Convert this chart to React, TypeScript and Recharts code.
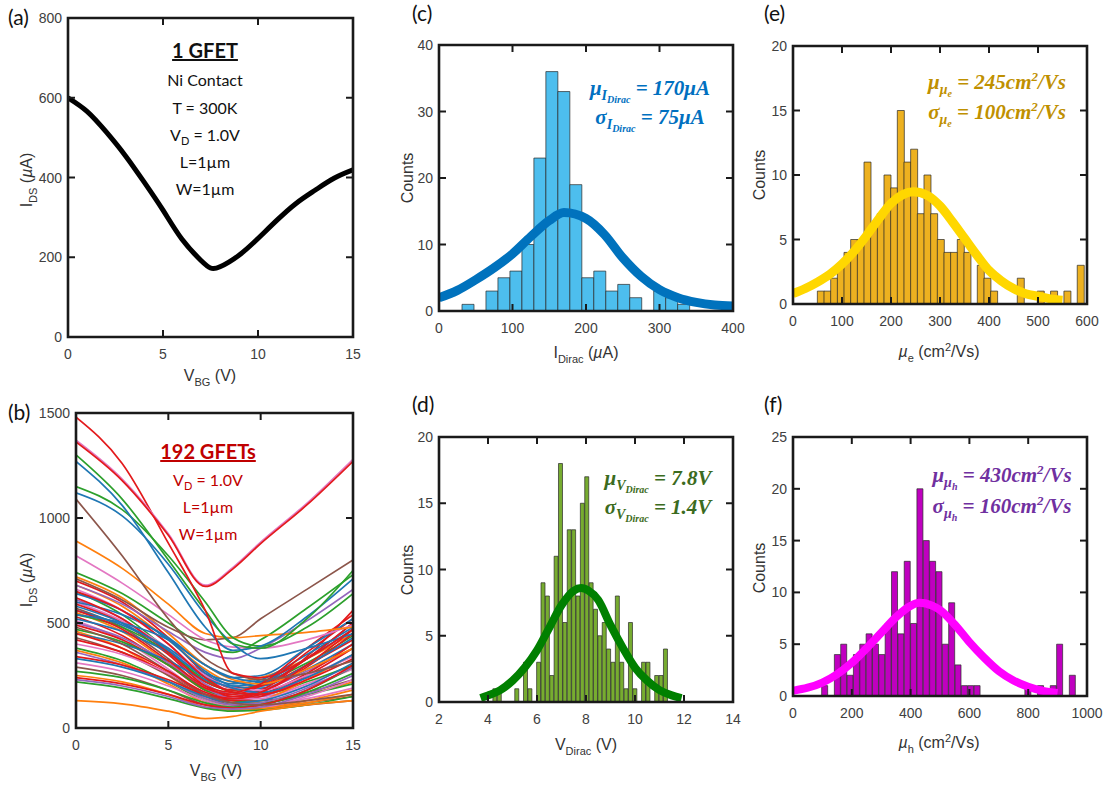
import React from "react";
import { ComposedChart, LineChart, Line, Bar, XAxis, YAxis } from "recharts";

// (a) single GFET transfer curve
const A_VBG = [0, 1, 2, 3, 4, 5, 6, 7, 7.5, 8, 9, 10, 11, 12, 13, 14, 15];
const A_IDS = [600, 566, 515, 456, 389, 318, 245, 192, 173, 176, 205, 247, 293, 335, 368, 398, 419];

// (b) 192 GFETs - a representative subset of traces, sampled at B_VBG
const B_VBG = [0, 2.5, 5, 7, 8.5, 10, 12.5, 15];
const B_CURVES: number[][] = [
  [700, 600, 430, 260, 190, 200, 300, 420],
  [680, 580, 420, 280, 220, 240, 330, 450],
  [650, 540, 370, 220, 180, 210, 310, 440],
  [640, 560, 420, 270, 200, 190, 280, 400],
  [610, 520, 360, 210, 160, 180, 270, 380],
  [600, 510, 380, 240, 170, 150, 210, 300],
  [590, 500, 350, 200, 150, 170, 290, 450],
  [570, 480, 330, 190, 140, 130, 170, 230],
  [560, 490, 380, 260, 220, 200, 300, 430],
  [550, 460, 310, 180, 130, 120, 160, 220],
  [540, 480, 360, 230, 170, 160, 220, 300],
  [530, 440, 300, 180, 150, 180, 340, 560],
  [520, 460, 360, 250, 210, 230, 350, 480],
  [510, 420, 280, 160, 120, 110, 140, 190],
  [500, 430, 310, 190, 140, 150, 240, 350],
  [490, 420, 300, 190, 160, 200, 360, 520],
  [470, 410, 300, 180, 130, 120, 160, 210],
  [460, 380, 250, 140, 110, 130, 230, 350],
  [450, 400, 320, 230, 200, 220, 330, 470],
  [430, 360, 250, 150, 110, 100, 120, 150],
  [420, 360, 260, 160, 130, 150, 250, 380],
  [400, 350, 260, 170, 140, 140, 200, 280],
  [380, 320, 220, 130, 100, 110, 180, 290],
  [370, 310, 210, 120, 90, 95, 130, 180],
  [360, 300, 220, 140, 110, 120, 190, 290],
  [340, 300, 230, 160, 140, 160, 260, 400],
  [330, 290, 220, 150, 120, 130, 200, 310],
  [310, 270, 200, 130, 100, 100, 150, 230],
  [290, 250, 180, 110, 90, 90, 110, 130],
  [270, 240, 180, 120, 100, 110, 170, 260],
  [250, 220, 160, 100, 85, 90, 120, 160],
  [240, 210, 160, 110, 95, 110, 180, 300],
  [220, 190, 140, 95, 80, 85, 110, 150],
  [230, 200, 150, 100, 90, 100, 160, 250],
  [600, 540, 430, 300, 240, 220, 330, 500],
  [620, 520, 360, 220, 180, 200, 330, 500],
  [720, 620, 450, 300, 230, 210, 280, 380],
  [660, 560, 400, 250, 190, 180, 250, 340],
  [480, 400, 270, 160, 120, 110, 130, 160],
  [580, 500, 370, 240, 190, 170, 240, 350],
  [650, 560, 400, 240, 170, 160, 230, 330],
  [560, 470, 320, 200, 170, 210, 380, 540],
  [540, 500, 420, 300, 240, 250, 380, 520],
  [450, 380, 270, 170, 140, 170, 300, 470],
  [130, 115, 80, 45, 55, 80, 110, 130],
  [680, 590, 460, 360, 330, 380, 510, 660],
  [740, 640, 500, 390, 360, 420, 570, 730],
  [710, 610, 480, 420, 430, 520, 660, 800],
  [820, 690, 540, 420, 385, 380, 420, 490],
  [890, 760, 590, 450, 430, 440, 455, 480],
  [1090, 820, 520, 330, 260, 230, 260, 320],
  [1120, 1010, 780, 540, 400, 330, 380, 450],
  [1150, 1040, 820, 600, 430, 390, 480, 640],
  [1270, 1060, 740, 480, 370, 390, 530, 710],
  [1300, 1090, 800, 560, 400, 380, 520, 750],
  [1480, 1260, 880, 560, 260, 240, 330, 470],
  [1370, 1185, 925, 680, 765, 885, 1070, 1280],
  [1362, 1178, 918, 674, 758, 878, 1062, 1270],
];
// colour key per trace (r red, o orange, g green, b blue, p purple, k pink, n brown)
const B_KEYS = [
  "r", "o", "g", "b", "p", "k", "r", "n", "b", "o", "g", "r", "b", "k", "p", "r", "g", "o", "b", "n",
  "r", "k", "g", "o", "p", "r", "b", "k", "n", "g", "o", "r", "g", "p", "b", "r", "o", "k", "n", "b",
  "r", "r", "b", "r", "o", "p", "g", "n", "k", "o", "n", "b", "g", "b", "g", "r", "k", "r",
];

// (c) I_Dirac histogram
const C_BIN_START = 31.3;
const C_BIN_WIDTH = 16.3;
const C_COUNTS = [1, 0, 3, 5, 6, 10, 23, 36, 33, 19, 5, 6, 3, 4, 2, 0, 3, 2, 1];
const C_FIT_X = [0, 25, 50, 75, 100, 125, 150, 170, 200, 225, 250, 275, 300, 325, 350, 375, 400];
const C_FIT_Y = [2.0, 3.1, 4.7, 6.5, 8.6, 11.2, 13.6, 14.8, 13.9, 11.5, 8.0, 5.2, 3.2, 2.0, 1.3, 0.9, 0.75];

// (d) V_Dirac histogram
const D_BIN_START = 4.2;
const D_BIN_WIDTH = 0.1785;
const D_COUNTS = [
  1, 1, 0, 0, 0, 1, 0, 3, 1, 0, 3, 9, 8, 2, 11, 18, 6, 13, 13, 8,
  15, 17, 9, 7, 5, 6, 4, 3, 8, 3, 1, 6, 1, 0, 3, 3, 0, 2, 2, 4,
];
const D_FIT_X = [3.7, 4, 4.5, 5, 5.5, 6, 6.5, 7, 7.5, 7.8, 8.1, 8.5, 9, 9.5, 10, 10.5, 11, 11.5, 11.9];
const D_FIT_Y = [0.3, 0.5, 0.9, 1.6, 2.6, 3.9, 5.6, 7.3, 8.4, 8.6, 8.4, 7.7, 5.8, 4.1, 2.6, 1.6, 0.9, 0.5, 0.3];

// (e) electron mobility histogram
const E_BIN_START = 49.7;
const E_BIN_WIDTH = 13.6;
const E_COUNTS = [
  1, 1, 2, 3, 4, 5, 5, 11, 6, 7, 10, 9, 15, 11, 12, 7, 10, 7, 5, 4,
  4, 5, 4, 0, 3, 2, 1, 0, 0, 0, 2, 0, 0, 1, 0, 1, 0, 1, 0, 3,
];
const E_FIT_X = [0, 25, 50, 75, 100, 125, 150, 175, 200, 225, 245, 275, 300, 325, 350, 375, 400, 425, 450, 475, 500, 525, 550];
const E_FIT_Y = [0.8, 1.2, 1.7, 2.3, 3.1, 4.1, 5.3, 6.6, 7.8, 8.5, 8.7, 8.4, 7.6, 6.4, 5.1, 3.8, 2.6, 1.8, 1.2, 0.8, 0.6, 0.4, 0.3];

// (f) hole mobility histogram
const F_BIN_START = 97.5;
const F_BIN_WIDTH = 21.6;
const F_COUNTS = [
  1, 0, 4, 5, 2, 4, 5, 6, 5, 4, 7, 12, 6, 13, 7, 20, 15, 13, 12, 5,
  9, 3, 1, 1, 1, 0, 0, 0, 0, 0, 0, 0, 1, 0, 1, 0, 1, 5, 0, 2,
];
const F_FIT_X = [0, 50, 100, 150, 200, 250, 300, 350, 400, 430, 475, 500, 550, 600, 650, 700, 750, 800, 850, 900];
const F_FIT_Y = [0.5, 0.8, 1.3, 2.1, 3.2, 4.6, 6.1, 7.6, 8.7, 9.0, 8.7, 8.3, 6.9, 5.2, 3.7, 2.4, 1.5, 0.9, 0.5, 0.3];

// ---------------------------------------------------------------------------

const PALETTE: Record<string, string> = {
  r: "#e31a1c",
  o: "#ff7f0e",
  g: "#2ca02c",
  b: "#1f77b4",
  p: "#9467bd",
  k: "#e377c2",
  n: "#8c564b",
};

const AX = "#1a1a1a";
const SANS = "'Liberation Sans', Arial, sans-serif";
const CAL = "Lato, 'Open Sans', sans-serif";
const MATH = "'Liberation Serif', 'DejaVu Serif', serif";
const TICK_LEN = 7;

// padding round each plot area inside its chart box
const PL = 56;
const PR = 22;
const PT = 14;
const PB = 36;

type Box = { x0: number; y0: number; x1: number; y1: number };
type Rect = { left: number; right: number; top: number; bottom: number };

function place(b: Box) {
  return {
    style: { position: "absolute" as const, left: b.x0 - PL, top: b.y0 - PT },
    width: b.x1 - b.x0 + PL + PR,
    height: b.y1 - b.y0 + PT + PB,
  };
}

// MATLAB-style ticks: inward marks on both opposite sides, labels outside
function makeXTick(r: Rect) {
  return (props: any) => {
    const { x, payload } = props;
    return (
      <g>
        <line x1={x} x2={x} y1={r.bottom} y2={r.bottom - TICK_LEN} stroke={AX} strokeWidth={2} />
        <line x1={x} x2={x} y1={r.top} y2={r.top + TICK_LEN} stroke={AX} strokeWidth={2} />
        <text x={x} y={r.bottom + 22} textAnchor="middle" fontFamily={SANS} fontSize={14} fill="#404040">
          {payload.value}
        </text>
      </g>
    );
  };
}

function makeYTick(r: Rect) {
  return (props: any) => {
    const { y, payload } = props;
    return (
      <g>
        <line x1={r.left} x2={r.left + TICK_LEN} y1={y} y2={y} stroke={AX} strokeWidth={2} />
        <line x1={r.right} x2={r.right - TICK_LEN} y1={y} y2={y} stroke={AX} strokeWidth={2} />
        <text x={r.left - 6} y={y + 5} textAnchor="end" fontFamily={SANS} fontSize={14} fill="#404040">
          {payload.value}
        </text>
      </g>
    );
  };
}

function axes(w: number, h: number, xKey: string, xd: number[], xt: number[], yd: number[], yt: number[]) {
  const r: Rect = { left: PL, right: w - PR, top: PT, bottom: h - PB };
  return [
    <XAxis key="xb" xAxisId="b" dataKey={xKey} type="number" domain={xd} ticks={xt} interval={0}
      allowDataOverflow height={PB} axisLine={false} tickLine={false} tick={makeXTick(r)} />,
    <XAxis key="xt" xAxisId="t" dataKey={xKey} type="number" domain={xd} allowDataOverflow hide />,
    <YAxis key="yl" yAxisId="l" type="number" domain={yd} ticks={yt} interval={0} allowDataOverflow
      width={PL} axisLine={false} tickLine={false} tick={makeYTick(r)} />,
  ];
}

const aRows = A_VBG.map((v, i) => ({ v, ids: A_IDS[i] }));

const bRows = B_VBG.map((v, j) => {
  const row: Record<string, number> = { v };
  B_CURVES.forEach((c, i) => {
    row["c" + i] = c[j];
  });
  return row;
});

function binRows(start: number, width: number, counts: number[]) {
  return counts.map((count, i) => ({ x: start + (i + 0.5) * width, count }));
}

function fitRows(xs: number[], ys: number[]) {
  return xs.map((x, i) => ({ x, y: ys[i] }));
}

interface HistProps {
  box: Box;
  bins: { x: number; count: number }[];
  fit: { x: number; y: number }[];
  xDomain: number[];
  xTicks: number[];
  yDomain: number[];
  yTicks: number[];
  barColor: string;
  fitColor: string;
  fitWidth: number;
}

function Histogram(props: HistProps) {
  const p = place(props.box);
  return (
    <div style={p.style}>
      <ComposedChart
        width={p.width}
        height={p.height}
        data={props.bins}
        margin={{ top: PT, right: PR, bottom: 0, left: 0 }}
        barCategoryGap={0}
        barGap={0}
      >
        {axes(p.width, p.height, "x", props.xDomain, props.xTicks, props.yDomain, props.yTicks)}
        <Bar
          xAxisId="b"
          yAxisId="l"
          dataKey="count"
          fill={props.barColor}
          stroke="#2a2a2a"
          strokeWidth={0.7}
          isAnimationActive={false}
        />
        <Line
          xAxisId="t"
          yAxisId="l"
          data={props.fit}
          dataKey="y"
          type="monotone"
          stroke={props.fitColor}
          strokeWidth={props.fitWidth}
          dot={false}
          activeDot={false}
          isAnimationActive={false}
        />
      </ComposedChart>
    </div>
  );
}

const BOX_A: Box = { x0: 68, y0: 18, x1: 353, y1: 337 };
const BOX_B: Box = { x0: 76, y0: 413, x1: 353, y1: 728 };
const BOX_C: Box = { x0: 439, y0: 45, x1: 733, y1: 311 };
const BOX_D: Box = { x0: 439, y0: 437, x1: 733, y1: 702 };
const BOX_E: Box = { x0: 793, y0: 46, x1: 1087, y1: 304 };
const BOX_F: Box = { x0: 793, y0: 437, x1: 1087, y1: 696 };
const BOXES = [BOX_A, BOX_B, BOX_C, BOX_D, BOX_E, BOX_F];

function Overlay() {
  const axisTitle = { fontFamily: SANS, fontSize: 16, fill: "#333" };
  const note = { fontFamily: CAL, fontSize: 16, textAnchor: "middle" as const };
  const math = { fontFamily: MATH, fontSize: 21, fontWeight: 700, fontStyle: "italic", textAnchor: "middle" as const };
  return (
    <svg
      width={1110}
      height={791}
      style={{ position: "absolute", left: 0, top: 0, pointerEvents: "none" }}
    >
      {/* plot frames */}
      {BOXES.map((b, i) => (
        <path
          key={i}
          d={`M${b.x0},${b.y0} H${b.x1} V${b.y1} H${b.x0} Z`}
          fill="none"
          stroke={AX}
          strokeWidth={2.6}
        />
      ))}

      {/* panel letters */}
      <g fontFamily={CAL} fontSize={21} fill="#111">
        <text x={8} y={25}>(a)</text>
        <text x={8} y={420}>(b)</text>
        <text x={412} y={21}>(c)</text>
        <text x={412} y={412}>(d)</text>
        <text x={764} y={21}>(e)</text>
        <text x={764} y={412}>(f)</text>
      </g>

      {/* axis titles */}
      <g {...axisTitle}>
        <text x={210} y={381} textAnchor="middle">
          V<tspan dy={5} fontSize={11}>BG</tspan><tspan dy={-5}> (V)</tspan>
        </text>
        <text transform="translate(32,180) rotate(-90)" textAnchor="middle">
          I<tspan dy={5} fontSize={11}>DS</tspan><tspan dy={-5}> (</tspan><tspan fontStyle="italic">µ</tspan>A)
        </text>
        <text x={216} y={776} textAnchor="middle">
          V<tspan dy={5} fontSize={11}>BG</tspan><tspan dy={-5}> (V)</tspan>
        </text>
        <text transform="translate(32,580) rotate(-90)" textAnchor="middle">
          I<tspan dy={5} fontSize={11}>DS</tspan><tspan dy={-5}> (</tspan><tspan fontStyle="italic">µ</tspan>A)
        </text>

        <text x={586} y={358} textAnchor="middle">
          I<tspan dy={5} fontSize={11}>Dirac</tspan><tspan dy={-5}> (</tspan><tspan fontStyle="italic">µ</tspan>A)
        </text>
        <text transform="translate(413,178) rotate(-90)" textAnchor="middle">Counts</text>
        <text x={586} y={750} textAnchor="middle">
          V<tspan dy={5} fontSize={11}>Dirac</tspan><tspan dy={-5}> (V)</tspan>
        </text>
        <text transform="translate(413,570) rotate(-90)" textAnchor="middle">Counts</text>

        <text x={939} y={357} textAnchor="middle">
          <tspan fontStyle="italic">µ</tspan><tspan dy={5} fontSize={11}>e</tspan>
          <tspan dy={-5}> (cm</tspan><tspan dy={-6} fontSize={11}>2</tspan><tspan dy={6}>/Vs)</tspan>
        </text>
        <text transform="translate(765,175) rotate(-90)" textAnchor="middle">Counts</text>
        <text x={939} y={748} textAnchor="middle">
          <tspan fontStyle="italic">µ</tspan><tspan dy={5} fontSize={11}>h</tspan>
          <tspan dy={-5}> (cm</tspan><tspan dy={-6} fontSize={11}>2</tspan><tspan dy={6}>/Vs)</tspan>
        </text>
        <text transform="translate(765,568) rotate(-90)" textAnchor="middle">Counts</text>
      </g>

      {/* (a) notes */}
      <g {...note} fill="#111">
        <text x={205} y={58} fontSize={20} fontWeight={700} textDecoration="underline">1 GFET</text>
        <text x={205} y={86}>Ni Contact</text>
        <text x={205} y={114}>T = 300K</text>
        <text x={205} y={141}>
          V<tspan dy={4} fontSize={11}>D</tspan><tspan dy={-4}> = 1.0V</tspan>
        </text>
        <text x={205} y={168}>L=1µm</text>
        <text x={205} y={195}>W=1µm</text>
      </g>

      {/* (b) notes */}
      <g {...note} fill="#c00000">
        <text x={208} y={459} fontSize={20} fontWeight={700} textDecoration="underline">192 GFETs</text>
        <text x={208} y={486}>
          V<tspan dy={4} fontSize={11}>D</tspan><tspan dy={-4}> = 1.0V</tspan>
        </text>
        <text x={208} y={513}>L=1µm</text>
        <text x={208} y={540}>W=1µm</text>
      </g>

      {/* fit statistics */}
      <g {...math} fill="#0070c0">
        <text x={650} y={95}>
          μ<tspan dy={5} fontSize={14}>I</tspan><tspan dy={3} fontSize={10}>Dirac</tspan>
          <tspan dy={-8}> = 170μA</tspan>
        </text>
        <text x={650} y={124}>
          σ<tspan dy={5} fontSize={14}>I</tspan><tspan dy={3} fontSize={10}>Dirac</tspan>
          <tspan dy={-8}> = 75μA</tspan>
        </text>
      </g>
      <g {...math} fill="#3b6b20">
        <text x={658} y={485}>
          μ<tspan dy={5} fontSize={14}>V</tspan><tspan dy={3} fontSize={10}>Dirac</tspan>
          <tspan dy={-8}> = 7.8V</tspan>
        </text>
        <text x={658} y={514}>
          σ<tspan dy={5} fontSize={14}>V</tspan><tspan dy={3} fontSize={10}>Dirac</tspan>
          <tspan dy={-8}> = 1.4V</tspan>
        </text>
      </g>
      <g {...math} fill="#bf9000">
        <text x={997} y={89}>
          μ<tspan dy={5} fontSize={14}>μ</tspan><tspan dy={3} fontSize={10}>e</tspan>
          <tspan dy={-8}> = 245cm</tspan><tspan dy={-8} fontSize={13}>2</tspan><tspan dy={8}>/Vs</tspan>
        </text>
        <text x={997} y={119}>
          σ<tspan dy={5} fontSize={14}>μ</tspan><tspan dy={3} fontSize={10}>e</tspan>
          <tspan dy={-8}> = 100cm</tspan><tspan dy={-8} fontSize={13}>2</tspan><tspan dy={8}>/Vs</tspan>
        </text>
      </g>
      <g {...math} fill="#7030a0">
        <text x={1002} y={482}>
          μ<tspan dy={5} fontSize={14}>μ</tspan><tspan dy={3} fontSize={10}>h</tspan>
          <tspan dy={-8}> = 430cm</tspan><tspan dy={-8} fontSize={13}>2</tspan><tspan dy={8}>/Vs</tspan>
        </text>
        <text x={1002} y={513}>
          σ<tspan dy={5} fontSize={14}>μ</tspan><tspan dy={3} fontSize={10}>h</tspan>
          <tspan dy={-8}> = 160cm</tspan><tspan dy={-8} fontSize={13}>2</tspan><tspan dy={8}>/Vs</tspan>
        </text>
      </g>
    </svg>
  );
}

export default function App() {
  const pa = place(BOX_A);
  const pb = place(BOX_B);
  return (
    <div
      style={{
        position: "absolute",
        left: 0,
        top: 0,
        width: 1110,
        height: 791,
        background: "#ffffff",
        overflow: "hidden",
      }}
    >
      <div style={pa.style}>
        <LineChart width={pa.width} height={pa.height} data={aRows} margin={{ top: PT, right: PR, bottom: 0, left: 0 }}>
          {axes(pa.width, pa.height, "v", [0, 15], [0, 5, 10, 15], [0, 800], [0, 200, 400, 600, 800])}
          <Line
            xAxisId="b"
            yAxisId="l"
            dataKey="ids"
            type="natural"
            stroke="#000000"
            strokeWidth={5}
            dot={false}
            activeDot={false}
            isAnimationActive={false}
          />
        </LineChart>
      </div>

      <div style={pb.style}>
        <LineChart width={pb.width} height={pb.height} data={bRows} margin={{ top: PT, right: PR, bottom: 0, left: 0 }}>
          {axes(pb.width, pb.height, "v", [0, 15], [0, 5, 10, 15], [0, 1500], [0, 500, 1000, 1500])}
          {B_CURVES.map((_, i) => (
            <Line
              key={i}
              xAxisId="b"
              yAxisId="l"
              dataKey={"c" + i}
              type="monotone"
              stroke={PALETTE[B_KEYS[i]]}
              strokeWidth={1.7}
              dot={false}
              activeDot={false}
              isAnimationActive={false}
            />
          ))}
        </LineChart>
      </div>

      <Histogram
        box={BOX_C}
        bins={binRows(C_BIN_START, C_BIN_WIDTH, C_COUNTS)}
        fit={fitRows(C_FIT_X, C_FIT_Y)}
        xDomain={[0, 400]}
        xTicks={[0, 100, 200, 300, 400]}
        yDomain={[0, 40]}
        yTicks={[0, 10, 20, 30, 40]}
        barColor="#4dbeee"
        fitColor="#0072bd"
        fitWidth={9}
      />
      <Histogram
        box={BOX_D}
        bins={binRows(D_BIN_START, D_BIN_WIDTH, D_COUNTS)}
        fit={fitRows(D_FIT_X, D_FIT_Y)}
        xDomain={[2, 14]}
        xTicks={[2, 4, 6, 8, 10, 12, 14]}
        yDomain={[0, 20]}
        yTicks={[0, 5, 10, 15, 20]}
        barColor="#77ac30"
        fitColor="#008000"
        fitWidth={8}
      />
      <Histogram
        box={BOX_E}
        bins={binRows(E_BIN_START, E_BIN_WIDTH, E_COUNTS)}
        fit={fitRows(E_FIT_X, E_FIT_Y)}
        xDomain={[0, 600]}
        xTicks={[0, 100, 200, 300, 400, 500, 600]}
        yDomain={[0, 20]}
        yTicks={[0, 5, 10, 15, 20]}
        barColor="#edb120"
        fitColor="#ffd700"
        fitWidth={9}
      />
      <Histogram
        box={BOX_F}
        bins={binRows(F_BIN_START, F_BIN_WIDTH, F_COUNTS)}
        fit={fitRows(F_FIT_X, F_FIT_Y)}
        xDomain={[0, 1000]}
        xTicks={[0, 200, 400, 600, 800, 1000]}
        yDomain={[0, 25]}
        yTicks={[0, 5, 10, 15, 20, 25]}
        barColor="#bf00bf"
        fitColor="#ff00ff"
        fitWidth={8}
      />

      <Overlay />
    </div>
  );
}
